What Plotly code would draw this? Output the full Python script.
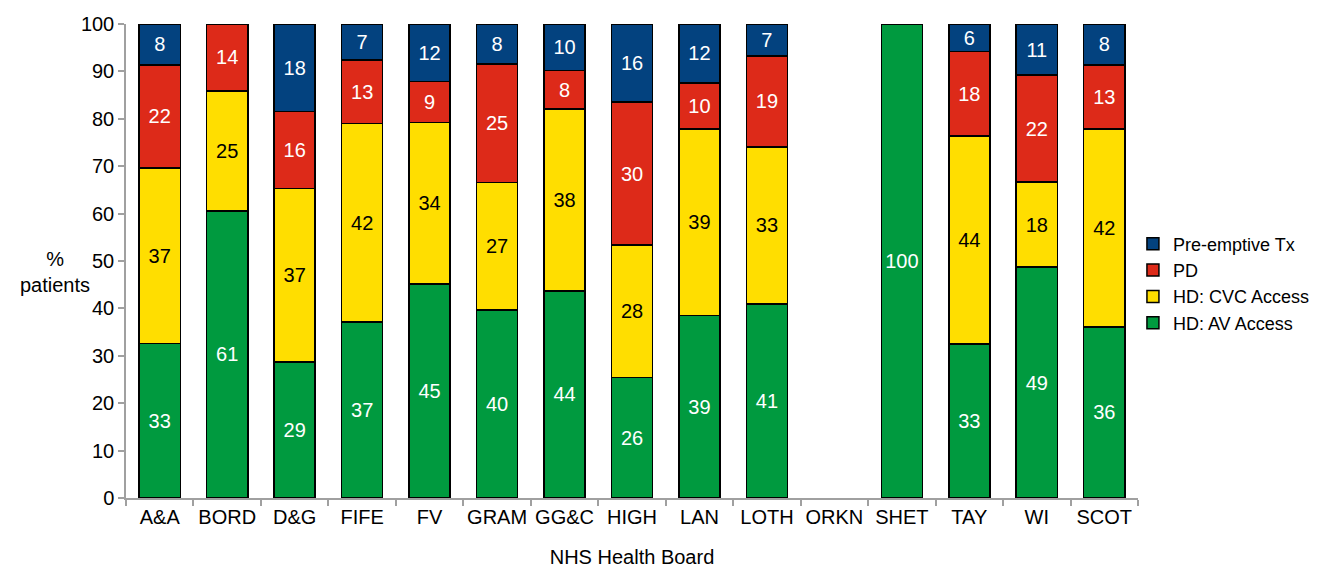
import plotly.graph_objects as go

boards = ["A&A", "BORD", "D&G", "FIFE", "FV", "GRAM", "GG&C", "HIGH",
          "LAN", "LOTH", "ORKN", "SHET", "TAY", "WI", "SCOT"]

# segment sizes (% patients)
av_access = [32.6, 60.6, 28.7, 37.1, 45.1, 39.7, 43.7, 25.4, 38.5, 40.9, None, 100, 32.5, 48.7, 36.1]
cvc_access = [37.0, 25.3, 36.6, 41.9, 34.1, 26.9, 38.4, 28.0, 39.4, 33.2, None, None, 43.9, 18.0, 41.8]
pd_vals = [21.8, 14.1, 16.2, 13.4, 8.7, 25.0, 8.1, 30.1, 9.7, 19.2, None, None, 17.8, 22.5, 13.5]
preemptive = [8.6, None, 18.5, 7.6, 12.1, 8.4, 9.8, 16.5, 12.4, 6.7, None, None, 5.8, 10.8, 8.6]

# printed labels
av_labels = ["33", "61", "29", "37", "45", "40", "44", "26", "39", "41", "", "100", "33", "49", "36"]
cvc_labels = ["37", "25", "37", "42", "34", "27", "38", "28", "39", "33", "", "", "44", "18", "42"]
pd_labels = ["22", "14", "16", "13", "9", "25", "8", "30", "10", "19", "", "", "18", "22", "13"]
pre_labels = ["8", "", "18", "7", "12", "8", "10", "16", "12", "7", "", "", "6", "11", "8"]

y_ticks = [0, 10, 20, 30, 40, 50, 60, 70, 80, 90, 100]

FONT = "Arial, 'Liberation Sans', Helvetica, sans-serif"
series = [
    ("HD: AV Access", av_access, av_labels, "#009a3f", "white"),
    ("HD: CVC Access", cvc_access, cvc_labels, "#ffde00", "black"),
    ("PD", pd_vals, pd_labels, "#dd2a19", "white"),
    ("Pre-emptive Tx", preemptive, pre_labels, "#03427f", "white"),
]

fig = go.Figure()
for name, vals, labels, color, tcolor in series:
    fig.add_trace(go.Bar(
        name=name, x=boards, y=vals, text=labels,
        textposition="inside", insidetextanchor="middle", textangle=0,
        textfont=dict(color=tcolor, size=20, family=FONT),
        marker=dict(color=color, line=dict(color="black", width=1.5)),
        hoverinfo="x+y+name",
    ))

fig.update_layout(
    barmode="stack",
    bargap=0.39,
    width=1325, height=560,
    paper_bgcolor="white", plot_bgcolor="white",
    margin=dict(l=118, r=195, t=16, b=70, autoexpand=False),
    font=dict(family=FONT, size=20, color="black"),
    uniformtext=dict(minsize=20, mode="show"),
    legend=dict(
        traceorder="reversed", x=0.995, xanchor="left", y=0.575, yanchor="top",
        font=dict(size=18, family=FONT), bgcolor="rgba(0,0,0,0)",
        itemwidth=30, tracegroupgap=0,
    ),
    showlegend=True,
)
fig.update_yaxes(
    range=[0, 100], tickvals=y_ticks, showgrid=False, zeroline=False,
    showline=True, linecolor="#a0a0a0", linewidth=1.5, automargin=False,
    ticks="outside", ticklen=6, tickcolor="#a0a0a0", tickwidth=1.5,
    tickfont=dict(size=20),
)
fig.update_xaxes(
    type="category", showgrid=False, showline=True, linecolor="#a0a0a0", linewidth=1.5,
    ticks="outside", tickson="boundaries", ticklen=6, tickcolor="#a0a0a0", tickwidth=1.5,
    tickfont=dict(size=20), tickangle=0, automargin=False,
    title=dict(text="NHS Health Board", font=dict(size=20), standoff=30),
)
fig.add_annotation(
    text="%<br>patients", xref="paper", yref="y", x=0, y=47.7,
    xanchor="center", yanchor="middle", xshift=-71, showarrow=False,
    font=dict(size=20), align="center",
)

fig.write_html("out.html")
